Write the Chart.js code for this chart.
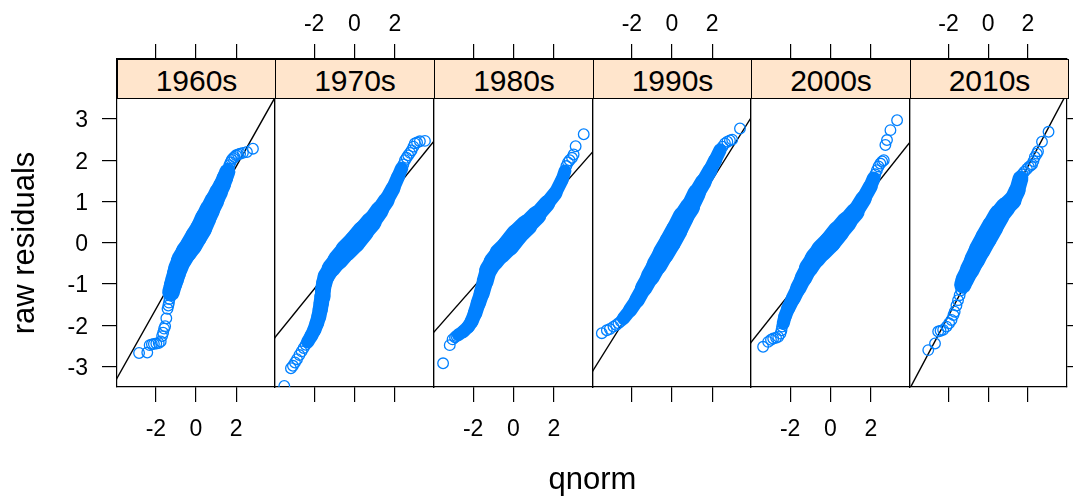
<!DOCTYPE html>
<html><head><meta charset="utf-8">
<script src="https://cdn.jsdelivr.net/npm/chart.js@4.4.0/dist/chart.umd.min.js"></script>
<style>
html,body{margin:0;padding:0;background:#fff;}
#wrap{position:relative;width:1073px;height:500px;overflow:hidden;font-family:"Liberation Sans",Arial,Helvetica,sans-serif;color:#000;}
#wrap canvas{position:absolute;left:0;top:0;}
.strip{position:absolute;top:59px;height:40px;box-sizing:border-box;border:1px solid #000;background:#ffe5cc;text-align:center;font-size:30px;line-height:36px;padding-top:3px;z-index:10;white-space:nowrap;}
.lab{position:absolute;width:300px;height:40px;line-height:40px;text-align:center;font-size:31px;white-space:nowrap;z-index:10;}
</style></head><body>
<div id="wrap">
<div class="lab" style="left:-125.7px;top:222.5px;transform:rotate(-90deg);">raw residuals</div>
<div class="lab" style="left:442.5px;top:458.6px;">qnorm</div>
</div>
<script>
// ---- data ----
const decades = ['1960s','1970s','1980s','1990s','2000s','2010s'];
const xTicks = [-2, 0, 2];
const yTicks = [-3, -2, -1, 0, 1, 2, 3];
const lineIntercept = [0.12, 0.086, 0.026, -0.032, 0.015, 0.041];
const lineSlope = [0.863, 0.604, 0.555, 0.777, 0.616, 0.905];

const lo1960 = [[-2.84,-2.67],[-2.43,-2.66],[-2.31,-2.48],[-2.2,-2.46],[-2.1,-2.45],[-1.98,-2.44],[-1.86,-2.43],[-1.76,-2.39],[-1.69,-2.26],[-1.64,-2.18],[-1.59,-2.08],[-1.54,-2.02],[-1.48,-1.83],[-1.42,-1.60],[-1.38,-1.52],[-1.35,-1.45],[-1.32,-1.36],[-1.28,-1.28]];
const core1960 = [[-1.25,-1.2],[-1.15,-1.02],[-1.07,-0.90],[-0.98,-0.75],[-0.90,-0.62],[-0.73,-0.42],[-0.48,-0.22],[-0.24,-0.06],[0.01,0.15],[0.26,0.35],[0.48,0.59],[0.68,0.79],[0.93,1.03],[1.14,1.24],[1.30,1.40],[1.45,1.58],[1.56,1.72]];
const hi1960 = [[1.61,1.80],[1.66,1.88],[1.72,1.95],[1.78,2.01],[1.85,2.05],[1.92,2.08],[2.0,2.12],[2.1,2.14],[2.2,2.16],[2.34,2.18],[2.54,2.20],[2.84,2.28]];

const lo1970 = [[-3.48,-3.47],[-3.15,-3.04],[-3.05,-2.98],[-2.95,-2.90],[-2.85,-2.82],[-2.73,-2.72],[-2.62,-2.63],[-2.52,-2.55],[-2.42,-2.47]];
const core1970 = [[-2.32,-2.40],[-2.15,-2.26],[-1.99,-2.11],[-1.87,-1.95],[-1.77,-1.79],[-1.70,-1.62],[-1.65,-1.47],[-1.60,-1.30],[-1.57,-1.15],[-1.50,-0.97],[-1.41,-0.82],[-1.16,-0.62],[-0.83,-0.42],[-0.41,-0.18],[0.0,0.02],[0.42,0.27],[0.84,0.51],[1.25,0.79],[1.58,1.03],[1.91,1.32],[2.16,1.60],[2.33,1.80]];
const hi1970 = [[2.42,1.90],[2.50,2.00],[2.58,2.06],[2.66,2.12],[2.75,2.18],[2.83,2.24],[2.92,2.33],[2.99,2.41],[3.1,2.43],[3.24,2.46],[3.49,2.47]];

const lo1980 = [[-3.49,-2.92],[-3.16,-2.48],[-3.02,-2.34],[-2.9,-2.29],[-2.83,-2.26]];
const core1980 = [[-2.74,-2.23],[-2.49,-2.15],[-2.24,-2.03],[-2.08,-1.91],[-1.91,-1.71],[-1.75,-1.47],[-1.58,-1.23],[-1.41,-0.94],[-1.25,-0.66],[-1.0,-0.46],[-0.67,-0.26],[-0.25,-0.06],[0.16,0.19],[0.66,0.43],[1.16,0.67],[1.66,0.95],[2.07,1.20],[2.40,1.52],[2.55,1.74]];
const hi1980 = [[2.62,1.86],[2.70,1.95],[2.78,2.0],[2.90,2.06],[2.98,2.14],[3.08,2.34],[3.48,2.63]];

const lo1990 = [[-3.50,-2.19],[-3.25,-2.12],[-3.10,-2.09],[-2.92,-2.03],[-2.78,-1.99],[-2.67,-1.95],[-2.55,-1.90]];
const core1990 = [[-2.42,-1.83],[-2.09,-1.63],[-1.75,-1.39],[-1.42,-1.10],[-1.09,-0.82],[-0.76,-0.54],[-0.43,-0.26],[-0.09,0.02],[0.24,0.31],[0.57,0.63],[0.90,0.87],[1.23,1.20],[1.57,1.48],[1.90,1.76],[2.15,2.00],[2.40,2.25]];
const hi1990 = [[2.52,2.33],[2.64,2.41],[2.76,2.45],[2.89,2.48],[3.0,2.50],[3.39,2.77]];

const lo2000 = [[-3.34,-2.52],[-3.09,-2.40],[-2.95,-2.35],[-2.84,-2.32],[-2.70,-2.30],[-2.59,-2.28],[-2.48,-2.20],[-2.43,-2.12],[-2.40,-2.03]];
const core2000 = [[-2.34,-1.95],[-2.26,-1.79],[-2.10,-1.59],[-1.85,-1.35],[-1.60,-1.10],[-1.35,-0.86],[-1.10,-0.62],[-0.77,-0.38],[-0.43,-0.18],[-0.02,0.02],[0.39,0.27],[0.81,0.51],[1.23,0.75],[1.64,1.07],[1.97,1.36],[2.14,1.56]];
const hi2000 = [[2.22,1.66],[2.30,1.76],[2.38,1.85],[2.47,1.92],[2.56,1.97],[2.64,2.00],[2.72,2.37],[2.80,2.49],[2.97,2.73],[3.30,2.97]];

const lo2010 = [[-3.02,-2.60],[-2.68,-2.44],[-2.52,-2.15],[-2.40,-2.13],[-2.27,-2.11],[-2.10,-2.03],[-1.97,-1.95],[-1.85,-1.87],[-1.75,-1.75],[-1.69,-1.67],[-1.60,-1.52],[-1.52,-1.39],[-1.44,-1.27],[-1.36,-1.15]];
const core2010 = [[-1.28,-1.02],[-1.19,-0.90],[-0.94,-0.66],[-0.69,-0.42],[-0.44,-0.18],[-0.11,0.11],[0.22,0.39],[0.55,0.67],[0.88,0.87],[1.22,1.03],[1.46,1.27],[1.63,1.56]];
const hi2010 = [[1.72,1.66],[1.82,1.72],[1.95,1.79],[2.05,1.84],[2.14,1.87],[2.21,1.90],[2.28,1.98],[2.35,2.08],[2.45,2.16],[2.51,2.22],[2.71,2.45],[3.04,2.69]];

const loSets = [lo1960, lo1970, lo1980, lo1990, lo2000, lo2010];
const coreSets = [core1960, core1970, core1980, core1990, core2000, core2010];
const hiSets = [hi1960, hi1970, hi1980, hi1990, hi2000, hi2010];

// ---- layout / style ----
const W = 1073, H = 500;
const panelLeft = [117, 275, 434, 593, 751, 910];
const panelRightEdge = 1068;
const STRIP_TOP = 59, PANEL_BOTTOM = 387;
const AX_L = 60, AX_R = 5, AX_T = 50, AX_B = 60;
const TICK = 15;
const XMIN = -3.94, XMAX = 3.94, YMIN = -3.494, YMAX = 4.454;
const BLUE = '#0080ff';
const FONT = '"Liberation Sans", Arial, Helvetica, sans-serif';
Chart.defaults.font.family = FONT;
Chart.defaults.color = '#000';

function bandWidth(x) { return 12 + 10 * Math.exp(-x * x / 2.5); }
const toXY = a => a.map(p => ({x: p[0], y: p[1]}));
const fixTicks = vals => s => { s.ticks = vals.map(v => ({value: v})); };
const wrap = document.getElementById('wrap');

decades.forEach((dec, i) => {
  const L = panelLeft[i];
  const R = i < 5 ? panelLeft[i + 1] : panelRightEdge;
  const cv = document.createElement('canvas');
  cv.width = W; cv.height = H;
  cv.style.width = W + 'px'; cv.style.height = H + 'px';
  wrap.appendChild(cv);
  const strip = document.createElement('div');
  strip.className = 'strip';
  strip.style.left = L + 'px';
  strip.style.width = (R - L + 1) + 'px';
  strip.textContent = dec;
  wrap.appendChild(strip);

  const core = coreSets[i];
  const allPts = toXY([...loSets[i], ...core, ...hiSets[i]]);
  const a = lineIntercept[i], b = lineSlope[i];
  const refLine = [{x: -6, y: a - 6 * b}, {x: 6, y: a + 6 * b}];
  const tickFont = {size: 23, family: FONT};
  const gridOn = {display: true, drawOnChartArea: false, drawTicks: true, tickLength: TICK, color: '#000', tickColor: '#000', lineWidth: 1.2, tickWidth: 1.2};
  const gridOff = {display: false, drawOnChartArea: false, drawTicks: false, tickLength: 0};
  const border = {display: true, color: '#000', width: 1.2};

  new Chart(cv, {
    type: 'scatter',
    data: {datasets: [
      {data: allPts, showLine: false, pointRadius: 5.3, pointHoverRadius: 5.3, pointBorderWidth: 1.3,
       pointBorderColor: BLUE, pointBackgroundColor: 'rgba(0,0,0,0)', order: 1},
      {data: toXY(core), showLine: true, pointRadius: 0, borderColor: BLUE, borderWidth: 16,
       borderCapStyle: 'round', borderJoinStyle: 'round', tension: 0,
       segment: {borderWidth: c => bandWidth((core[c.p0DataIndex][0] + core[c.p1DataIndex][0]) / 2)},
       order: 2},
      {data: refLine, showLine: true, pointRadius: 0, borderColor: '#000', borderWidth: 1.4, order: 3}
    ]},
    options: {
      responsive: false, animation: false, devicePixelRatio: 1, events: [],
      layout: {padding: {left: L - AX_L, right: W - R - AX_R, top: STRIP_TOP - AX_T, bottom: H - PANEL_BOTTOM - AX_B}},
      plugins: {legend: {display: false}, tooltip: {enabled: false}},
      scales: {
        x: {type: 'linear', position: 'bottom', min: XMIN, max: XMAX,
            afterBuildTicks: fixTicks(xTicks), afterFit: s => { s.height = AX_B; },
            grid: gridOn, border: border,
            ticks: {display: i % 2 === 0, font: tickFont, color: '#000', padding: 14, maxRotation: 0, autoSkip: false, callback: v => String(v)}},
        x2: {type: 'linear', position: 'top', display: true, min: XMIN, max: XMAX,
            afterBuildTicks: fixTicks(xTicks), afterFit: s => { s.height = AX_T; },
            grid: gridOn, border: border,
            ticks: {display: i % 2 === 1, font: tickFont, color: '#000', padding: 6, maxRotation: 0, autoSkip: false, callback: v => String(v)}},
        y: {type: 'linear', position: 'left', min: YMIN, max: YMAX,
            afterBuildTicks: fixTicks(yTicks), afterFit: s => { s.width = AX_L; },
            grid: i === 0 ? gridOn : gridOff, border: border,
            ticks: {display: i === 0, font: tickFont, color: '#000', padding: 14, labelOffset: 2, autoSkip: false, callback: v => String(v)}},
        y2: {type: 'linear', position: 'right', display: true, min: YMIN, max: YMAX,
            afterBuildTicks: fixTicks(yTicks), afterFit: s => { s.width = AX_R; },
            grid: i === 5 ? gridOn : gridOff, border: border,
            ticks: {display: false}}
      }
    }
  });
});
</script>
</body></html>
